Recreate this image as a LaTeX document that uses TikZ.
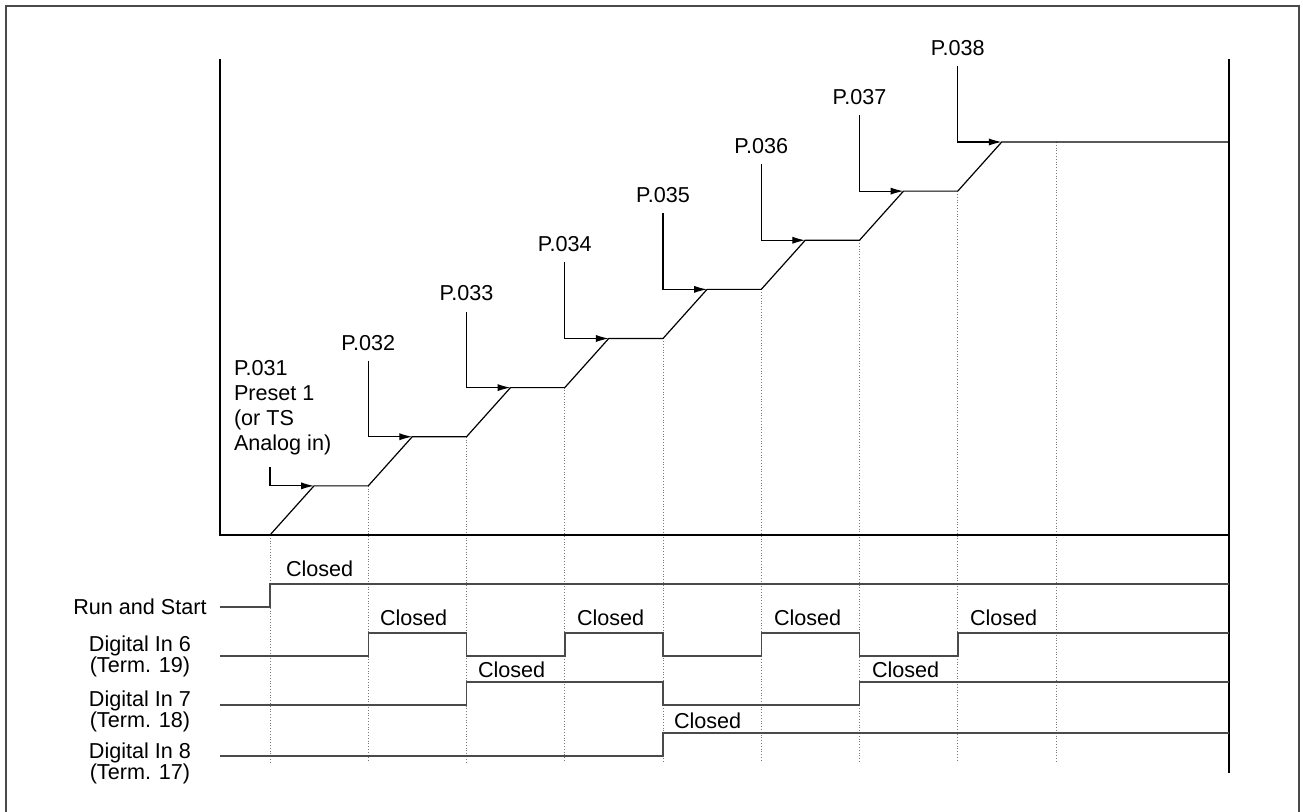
\documentclass[tikz,border=0pt]{standalone}
\usepackage{fontspec}
\setmainfont{Liberation Sans}
\usetikzlibrary{arrows.meta,calc}
\definecolor{cAxis}{HTML}{000000}
\definecolor{cSig}{HTML}{4A4A4A}
\definecolor{cGuide}{HTML}{7A7A7A}
\definecolor{cFrame}{HTML}{4A4A4A}
\tikzset{
  txt/.style   ={font=\fontsize{10.8}{10.5}\selectfont, inner sep=0pt, outer sep=0pt},
  plbl/.style  ={txt, anchor=south, inner ysep=5.25pt},
  sname/.style ={txt, align=center, anchor=north},
  clbl/.style  ={txt, anchor=base west},
  axis/.style  ={draw=cAxis, line width=0.6pt},
  sig/.style   ={draw=cSig, line width=0.75pt},
  guide/.style ={draw=cGuide, line width=0.4pt, densely dotted},
  arr/.style   ={-{Latex[length=6.5pt,width=3.6pt]}, line width=0.6pt},
  frame/.style ={draw=cFrame, line width=1pt},
}

\begin{document}
\begin{tikzpicture}[x=0.5pt, y=-0.5pt]
\useasboundingbox (0,0) rectangle (1303,812);
\draw[frame] (6,812) -- (6,6) -- (1299,6) -- (1299,812);

% step corners and ramp tops
\foreach \i in {0,...,8}
  \coordinate (s\i) at ({270+98.25*\i}, {535-49.125*\i});
\foreach \i [evaluate=\i as \k using int(\i-1)] in {1,...,8}
  \coordinate (r\i) at ($(s\k)+(44,-49.125)$);
\coordinate (bot) at (0,762);
\coordinate (hiR) at (0,584); \coordinate (loR) at (0,607);
\coordinate (hi6) at (0,633); \coordinate (lo6) at (0,656);
\coordinate (hi7) at (0,682); \coordinate (lo7) at (0,705);
\coordinate (hi8) at (0,733); \coordinate (lo8) at (0,756);
\coordinate (xl) at (220,0); \coordinate (xr) at (1229,0);

\foreach \i in {0,...,8}
  \draw[guide] (s\i) -- (s\i |- bot);

\draw[axis] (220,59) -- (220,535) -- (1229,535);
\draw[axis] (1229,59) -- (1229,773);
\draw[axis] (s0) \foreach \i in {1,...,8} { -- (r\i) -- (s\i)} -- (xr |- s8);

\node[txt, anchor=south west, align=left, inner ysep=6pt,
      font=\fontsize{10.8}{12.5}\selectfont] (p1) at (234,467)
  {P.031\\Preset 1\\(or TS\\Analog in)};
\draw[arr] (p1.south -| s0) |- (r1);
\foreach \i [evaluate=\i as \j using int(\i+1)] in {1,...,7} {
  \node[plbl] (p\j) at ($(s\i |- r\j)+(0,-76)$) {P.03\j};
  \draw[arr] (p\j.south) |- (r\j);
}

\node[txt] (run) at (140,607) {Run and Start};
\node[sname] (din6) at (140,635.5) {Digital In 6\\(Term. 19)};
\node[sname] (din7) at (140,690.5) {Digital In 7\\(Term. 18)};
\node[sname] (din8) at (140,742.5) {Digital In 8\\(Term. 17)};

\draw[sig] (xl |- loR) -- (s0 |- loR) -- (s0 |- hiR) -- (xr |- hiR);
\draw[sig] (xl |- lo6) -- (s1 |- lo6) -- (s1 |- hi6) -- (s2 |- hi6)
  -- (s2 |- lo6) -- (s3 |- lo6) -- (s3 |- hi6) -- (s4 |- hi6)
  -- (s4 |- lo6) -- (s5 |- lo6) -- (s5 |- hi6) -- (s6 |- hi6)
  -- (s6 |- lo6) -- (s7 |- lo6) -- (s7 |- hi6) -- (xr |- hi6);
\draw[sig] (xl |- lo7) -- (s2 |- lo7) -- (s2 |- hi7) -- (s4 |- hi7)
  -- (s4 |- lo7) -- (s6 |- lo7) -- (s6 |- hi7) -- (xr |- hi7);
\draw[sig] (xl |- lo8) -- (s4 |- lo8) -- (s4 |- hi8) -- (xr |- hi8);

\node[clbl] (cR) at (286,577) {Closed};
\foreach \x [count=\n] in {380,577,774,970}
  \node[clbl] (c6\n) at (\x,626) {Closed};
\foreach \x [count=\n] in {478,872}
  \node[clbl] (c7\n) at (\x,678) {Closed};
\node[clbl] (c81) at (674,729) {Closed};
\end{tikzpicture}
\end{document}
